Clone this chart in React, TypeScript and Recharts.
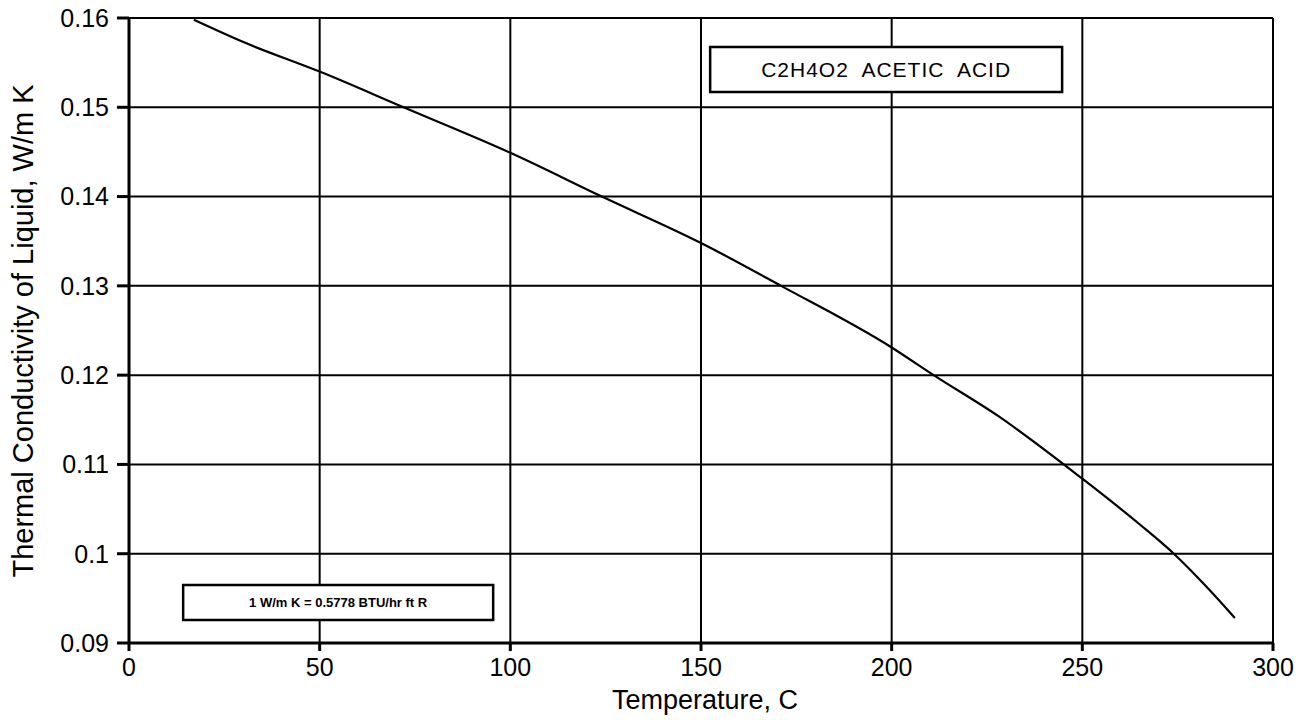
import React from "react";
import {
  LineChart,
  Line,
  XAxis,
  YAxis,
  CartesianGrid,
  ReferenceArea,
} from "recharts";

const temperatures = [17, 30, 50, 72, 100, 124, 150, 171, 200, 211, 228, 250, 265, 274, 283, 290];
const conductivity = [0.1598, 0.1573, 0.154, 0.15, 0.1449, 0.14, 0.1348, 0.13, 0.1231, 0.12, 0.1154, 0.1084, 0.1033, 0.1, 0.0961, 0.0928];

const xTicks = [0, 50, 100, 150, 200, 250, 300];
const yTicks = [0.09, 0.1, 0.11, 0.12, 0.13, 0.14, 0.15, 0.16];

const data = temperatures.map((t, i) => ({ t, k: conductivity[i] }));

const FONT = "'Liberation Sans', Arial, Helvetica, sans-serif";

function BoxLabel(props: any) {
  const { viewBox, text, size, bold, spacing } = props;
  const { x, y, width, height } = viewBox;
  return (
    <text
      x={x + width / 2}
      y={y + height / 2}
      textAnchor="middle"
      dominantBaseline="central"
      fontFamily={FONT}
      fontSize={size}
      fontWeight={bold ? "bold" : "normal"}
      letterSpacing={spacing || 0}
      style={{ whiteSpace: "pre" }}
      fill="#000"
    >
      {text}
    </text>
  );
}

function XTitle(props: any) {
  const { viewBox } = props;
  const cx = viewBox.x + viewBox.width / 2;
  return (
    <text x={cx + 4} y={709} textAnchor="middle" fontFamily={FONT} fontSize={27} fill="#000">
      Temperature, C
    </text>
  );
}

function YTitle() {
  return (
    <text
      x={33}
      y={331}
      transform="rotate(-90, 33, 331)"
      textAnchor="middle"
      fontFamily={FONT}
      fontSize={29}
      fill="#000"
    >
      Thermal Conductivity of Liquid, W/m K
    </text>
  );
}

export default function App() {
  return (
    <div style={{ position: "absolute", left: 0, top: 0, background: "#fff" }}>
      <LineChart
        width={1316}
        height={720}
        data={data}
        margin={{ top: 18, right: 43, bottom: 0, left: 0 }}
      >
        <CartesianGrid stroke="#000" strokeWidth={2} />
        <XAxis
          dataKey="t"
          type="number"
          domain={[0, 300]}
          ticks={xTicks}
          interval={0}
          height={77}
          stroke="#000"
          strokeWidth={3}
          tickSize={8}
          tickMargin={7}
          tick={{ fill: "#000", fontSize: 25, fontFamily: FONT }}
          label={<XTitle />}
        />
        <YAxis
          type="number"
          domain={[0.09, 0.16]}
          ticks={yTicks}
          interval={0}
          width={129}
          stroke="#000"
          strokeWidth={3}
          tickSize={12}
          tickMargin={8}
          tick={{ fill: "#000", fontSize: 25, fontFamily: FONT }}
          label={<YTitle />}
        />
        <ReferenceArea
          x1={152.4}
          x2={244.7}
          y1={0.15171}
          y2={0.15675}
          fill="#fff"
          fillOpacity={1}
          stroke="#000"
          strokeWidth={2.5}
          ifOverflow="visible"
          label={<BoxLabel text="C2H4O2  ACETIC  ACID" size={21} spacing={1} />}
        />
        <ReferenceArea
          x1={14.2}
          x2={95.5}
          y1={0.09259}
          y2={0.09651}
          fill="#fff"
          fillOpacity={1}
          stroke="#000"
          strokeWidth={2.5}
          ifOverflow="visible"
          label={<BoxLabel text="1 W/m K = 0.5778 BTU/hr ft R" size={13} bold />}
        />
        <Line
          type="monotone"
          dataKey="k"
          stroke="#000"
          strokeWidth={2.2}
          dot={false}
          isAnimationActive={false}
        />
      </LineChart>
    </div>
  );
}
